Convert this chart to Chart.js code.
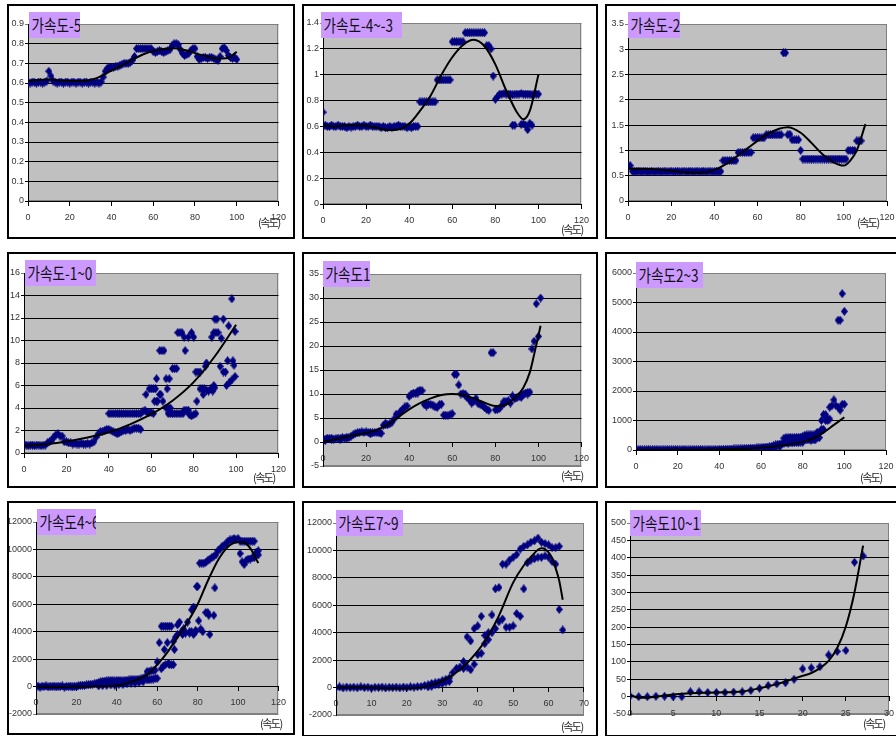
<!DOCTYPE html>
<html>
<head>
<meta charset="utf-8">
<script src="https://cdn.jsdelivr.net/npm/chart.js@4.4.1/dist/chart.umd.min.js"></script>
<style>
  html, body { margin: 0; padding: 0; }
  body { width: 896px; height: 736px; overflow: hidden; position: relative; background: #fff; }
  .panel { position: absolute; border: 2px solid #000; box-sizing: border-box; }
  canvas { position: absolute; }
  .ttl { position: absolute; height: 26px; background: #cc99ff; overflow: hidden; white-space: nowrap;
         font: 17px "Noto Sans CJK KR", sans-serif; line-height: 26px; color: #111; }
  .ttl span { display: inline-block; transform: scaleX(0.8); transform-origin: 0 50%; padding-left: 3px; }
  .unit { position: absolute; font: 11px "Noto Sans CJK KR", sans-serif; line-height: 12px;
          letter-spacing: -1.5px; color: #222; white-space: nowrap; }
</style>
</head>
<body>
<script>
// chart titles and axis ranges
const titles = ['가속도-5', '가속도-4~-3', '가속도-2', '가속도-1~0', '가속도1', '가속도2~3', '가속도4~6', '가속도7~9', '가속도10~12'];
const unitLabel = '(속도)';
const xMaxs  = [120, 120, 120, 120, 120, 120, 120, 70, 30];
const xSteps = [20, 20, 20, 20, 20, 20, 20, 10, 5];
const yMins  = [0, 0, 0, 0, -5, 0, -2000, -2000, -50];
const yMaxs  = [0.9, 1.4, 3.5, 16, 35, 6000, 12000, 12000, 500];
const ySteps = [0.1, 0.2, 0.5, 2, 5, 1000, 2000, 2000, 50];

// main series: value at speed 0,1,2,... ; extra: [speed, value] ; trend: [speed, value]
const c1Main = [0.605,0.6,0.605,0.605,0.6,0.605,0.605,0.6,0.605,0.61,
  0.66,0.635,0.61,
  0.605,0.6,0.605,0.605,0.6,0.605,0.605,0.6,0.605,0.605,0.6,0.605,0.605,0.6,0.605,0.605,0.6,0.605,0.605,0.6,0.605,0.6,0.605,
  0.63,0.66,
  0.675,0.68,0.68,0.68,0.685,0.685,0.69,
  0.695,0.7,0.7,0.7,0.705,
  0.715,0.735,
  0.775,0.775,0.775,0.775,0.775,0.775,0.775,0.775,
  0.76,0.755,0.76,0.765,0.76,0.755,0.76,0.765,0.77,
  0.79,0.8,0.8,0.795,
  0.77,0.75,0.74,0.745,0.75,
  0.765,0.775,0.775,
  0.735,0.72,0.725,0.73,0.73,0.725,0.73,0.73,0.725,0.72,
  0.715,0.735,0.775,0.78,0.765,
  0.74,0.73,0.725,0.73,0.72];
const c1Extra = [];
const c1Trend = [[0,0.61],[5,0.615],[10,0.618],[15,0.613],[20,0.61],[25,0.61],[30,0.615],[35,0.635],[40,0.663],[45,0.69],[50,0.718],[55,0.745],[60,0.763],[65,0.773],[70,0.777],[75,0.768],[80,0.752],[85,0.737],[90,0.725],[95,0.726],[100,0.758]];

const c2Main = [0.6,0.61,0.6,0.6,0.61,0.6,0.6,0.61,0.6,0.6,
  0.6,0.59,0.6,0.595,0.6,0.6,0.61,0.6,0.6,0.61,
  0.6,0.6,0.61,0.6,0.6,0.6,0.6,0.59,0.6,0.59,
  0.59,0.6,0.59,0.6,0.6,0.61,0.6,0.6,0.6,0.59,
  0.6,0.59,0.6,0.6,0.6,
  0.79,0.79,0.79,0.79,0.79,0.79,0.79,0.79,
  0.96,0.96,0.96,0.96,0.96,0.96,0.96,
  1.255,1.255,1.255,1.255,1.255,1.255,
  1.325,1.325,1.325,1.325,1.325,1.325,1.325,1.325,1.325,1.325,
  1.225,1.225,1.2,
  0.99,0.81,0.83,
  0.85,0.85,0.855,0.85,0.85,0.85,0.845,0.85,0.85,0.85,0.855,0.85,0.85,0.85,0.85,0.845,0.85,0.85,0.85];
const c2Extra = [[0,0.71],[88,0.61],[89,0.61],[92,0.615],[93,0.62],[94,0.61],[95,0.575],[96,0.625],[97,0.61]];
const c2Trend = [[0,0.61],[5,0.6],[10,0.607],[15,0.61],[20,0.605],[25,0.59],[30,0.572],[35,0.577],[40,0.62],[45,0.72],[50,0.84],[55,1.0],[60,1.135],[65,1.23],[70,1.27],[75,1.22],[80,1.08],[85,0.88],[90,0.71],[93,0.655],[96,0.72],[100,1.0]];

const c3Main = [0.7,0.7,
  0.59,0.58,0.585,0.59,0.58,0.585,0.59,0.58,0.585,0.59,0.58,0.585,0.59,0.58,0.585,0.59,0.58,0.585,0.59,0.58,0.585,
  0.59,0.58,0.585,0.59,0.58,0.585,0.59,0.58,0.585,0.59,0.58,0.585,0.59,0.58,0.585,0.59,0.58,0.585,0.59,0.58,0.585,
  0.8,0.8,0.8,0.8,0.8,0.8,0.8,
  0.96,0.96,0.96,0.96,0.96,0.96,0.96,
  1.25,1.25,1.25,1.25,1.25,1.25,
  1.31,1.31,1.31,1.31,1.31,1.31,1.31,1.31,
  2.93,2.93,
  1.31,1.32,
  1.21,1.21,1.21,1.21,
  1.0,
  0.83,0.83,0.83,0.83,0.83,0.83,0.83,0.83,0.83,0.83,0.83,0.83,0.83,0.83,0.83,0.83,0.83,0.83,0.83,0.83,0.83,
  1.0,1.0,1.0,1.0,
  1.19,1.19,1.19];
const c3Extra = [];
const c3Trend = [[0,0.64],[5,0.64],[10,0.635],[15,0.62],[20,0.6],[25,0.575],[30,0.56],[35,0.565],[40,0.615],[45,0.72],[50,0.87],[55,1.03],[60,1.19],[65,1.33],[70,1.43],[74,1.46],[80,1.35],[85,1.15],[90,0.93],[95,0.77],[100,0.7],[103,0.8],[106,1.0],[110,1.52]];

const c4Main = [0.75,0.7,0.65,0.7,0.7,0.65,0.7,0.7,0.65,0.7,0.7,
  0.9,1.0,1.1,1.4,1.6,1.7,1.5,1.5,1.0,1.0,
  0.9,0.9,0.8,0.85,0.8,0.8,0.85,0.8,0.8,0.85,0.8,0.9,
  1.0,1.4,1.7,1.9,1.9,2.0,2.1,2.1,2.0,1.9,1.8,1.7,1.8,1.9,2.0,2.0,2.1,2.0,2.1,2.2,2.2,2.2,2.1];
const c4Extra = [[40,3.5],[41,3.5],[42,3.5],[43,3.5],[44,3.5],[45,3.5],[46,3.5],[47,3.5],[48,3.5],[49,3.5],[50,3.5],[51,3.5],[52,3.5],[53,3.5],[54,3.5],[55,3.5],
  [56,3.7],[57,3.8],[58,3.6],[59,3.6],[60,3.6],[61,3.5],
  [57.5,5.2],[59,5.7],[60,5.7],[61,5.7],[62,5.7],[62.5,6.6],[61.5,4.6],[62.5,4.6],[63,4.6],[64,5.2],[64.5,5.2],
  [64,9.1],[65,9.1],[66,9.1],[65.5,4.6],[67,6.6],[67.5,5.7],[68.5,6.6],[67,4.0],[68,4.0],[69,4.0],
  [68,3.5],[69,3.5],[70,3.5],[71,3.5],[72,3.5],[73,3.5],[74,3.5],[75,3.5],
  [70,7.5],[71,7.5],[72,7.5],[72.5,10.7],[73.5,10.7],[74.5,10.7],[75.5,10.3],[76,9.1],[75.5,3.8],[76.5,3.8],[77.5,3.8],
  [77.5,10.3],[79,10.7],[80,10.3],[78,3.4],[79,3.3],[80,3.4],[81,3.5],[81,7.2],[82,7.2],[83,7.2],[81.5,4.6],
  [83,5.7],[84,5.7],[85,5.7],[84.5,5.2],[85.5,7.7],[86,8.0],[86,5.6],[87,5.5],[88,5.7],[89,5.5],[90,5.8],[89.5,6.0],
  [88.5,10.3],[89.5,10.7],[90.5,10.7],[91.5,10.7],[90,11.9],[91,11.9],[94,11.9],[92.5,7.7],[93,10.2],[94,7.2],[95,7.2],
  [95.5,6.0],[96,8.2],[96.5,11.3],[97,6.3],[98,13.7],[98,6.5],[98.5,8.2],[99,7.8],[99.5,10.8],[99.5,6.8]];
const c4Trend = [[0,0.6],[10,0.78],[20,1.03],[30,1.38],[40,1.85],[50,2.55],[60,3.45],[70,4.65],[80,6.3],[90,8.6],[100,11.4]];

const c5Main = [0.3,0.6,0.8,0.7,0.8,0.6,0.7,0.8,0.7,0.9,0.8,0.8,0.9,
  1.2,1.5,1.8,1.9,2.0,2.1,2.0,2.1,2.0,2.0,1.9,2.0,2.0,1.9,1.8,
  3.5,3.6,3.6,3.8,4.1,4.8,5.8,5.7,6.4,6.8,7.3,7.5,9.5,10.0,10.2,10.1,10.6,10.8,10.7,
  7.8,7.8,7.9,7.8,7.7,7.3,7.2,7.8,7.9,5.6,5.6,5.5,5.7,5.9,
  14.1,14.1,11.9,10.0,10.1,10.0,9.2,8.8,8.1,8.5,9.1,8.0,7.8,7.6,7.2,6.8,6.6,18.6,18.6,
  6.7,6.8,7.0,7.6,8.0,8.4,8.6,8.1,9.6,9.0,9.2,9.5,9.6,10.0,10.2,10.3,10.4,19.4,21.0,28.8,22.0,30.0];
const c5Extra = [[1,0.3],[4,0.5],[8,0.5],[11,1.0],[22,1.7],[26,2.2],[29,3.9],[44,10.2],[48,7.5],[66,9.7],[84,8.5],[92,9.3],[95,10.0]];
const c5Trend = [[0,0],[5,0.5],[10,1.0],[15,1.45],[20,1.9],[25,2.5],[30,3.6],[35,5.2],[40,6.8],[45,8.1],[50,9.1],[55,9.8],[60,10.0],[65,9.8],[70,9.1],[75,8.2],[80,7.5],[85,7.8],[90,9.6],[93,11.3],[96,14.5],[98,18.2],[101,24.2]];

const c6Main = [10,5,15,10,5,10,15,5,10,10,15,5,10,10,5,15,10,5,10,15,
  10,5,10,15,10,5,10,10,15,5,10,15,10,5,10,15,10,10,15,10,20,
  20,20,25,25,30,30,35,35,40,40,
  45,50,50,55,60,60,65,70,75,80,
  90,95,100,110,120,
  150,170,190,200,220,
  400,420,420,430,420,420,430,420,440,450,
  500,510,510,520,510,520,
  600,600,
  1000,1200,1200,1050,1450,1500,1700,1500,4400,4400,5300,4700];
const c6Extra = [[61,50],[63,60],[65,70],[67,90],[69,110],
  [71,230],[72,240],[73,230],[74,250],[75,240],[76,250],[77,260],[78,250],[79,270],[80,260],
  [81,350],[82,340],[83,350],[84,330],[85,350],[86,340],[87,420],[88,420],[89,700],[90,700],
  [91,1000],[92,1000],[93,1050],[97,1450],[98,1350],[99,1550],[100,1550]];
const c6Trend = [[0,0],[10,2],[20,5],[30,10],[40,20],[50,40],[60,80],[70,155],[80,275],[85,390],[90,590],[95,850],[100,1110]];

const c7Main = [0,40,-40,30,0,50,-30,20,0,40,-20,30,0,50,-40,20,0,40,-30,30,0,
  60,80,100,90,120,140,150,180,200,250,
  300,350,380,400,420,420,450,430,420,440,450,430,420,450,460,
  480,500,520,500,520,540,560,600,700,
  1100,1100,1150,1150,1200,
  1800,3200,
  4400,4400,4400,4400,4400,4400,
  3300,3600,4500,4700,4000,4200,3900,4700,4000,5600,5800,4100,7300,9000,
  9000,9000,9050,9200,9300,9400,9500,9600,9900,10000,10200,10300,10400,10600,10700,10700,10800,10700,10800,10600,10600,10600,10600,10600,10600,10600,10600,
  9800,9900];
const c7Extra = [[31,50],[33,80],[35,100],[37,120],[39,100],[41,150],[43,150],[45,200],[47,250],[49,250],[51,300],[53,350],
  [55,500],[56,500],[57,550],[58,550],[59,600],[60,600],[62,1300],[63,1500],[63.5,2700],[65,3200],[64,1600],[65.5,1700],
  [66,1600],[67,1600],[68,1600],[68.5,2700],[70,3800],[72.5,3800],[73.5,4000],[76,3900],[77,4000],[78,3800],[79,4000],
  [79.5,7300],[80.5,4800],[81.5,4200],[82.5,4000],[84,5400],[85,5400],[85.5,5200],[86,3800],[88,5200],[88.5,7200],
  [101,9700],[102,9100],[103,8900],[104,9200],[105,9300],[106,9300],[107,9400],[108,9400],[110,9600]];
const c7Trend = [[0,0],[10,-30],[20,0],[30,20],[40,80],[45,250],[50,500],[55,850],[60,1600],[65,2500],[70,3600],[75,4700],[80,6000],[85,7700],[90,9200],[95,10200],[100,10550],[103,10500],[106,10100],[110,9000]];

const c8Main = [0,50,-30,40,0,30,-20,50,0,30,-40,20,0,40,-30,20,0,30,-20,40,0,50,30,60,80,
  150,200,300,350,400,500,600,700,1100,1400,1500,1900,3700,3400,4300,4500,5200,3800,4000,5300,
  7200,7300,9000,9000,9300,9500,9700,10100,10300,10400,10600,10700,10900,10600,10500,10400,10200,10200,10300,4200];
const c8Extra = [[26,50],[27,100],[28,200],[29,250],[30,300],[31,400],[32,450],[36,1400],[37,1500],[38,1300],[39,1700],
  [40,2400],[41,2500],[42,3200],[43,3500],[44,4000],[45,4300],[46,4800],[47,5000],[48,4400],[49,4400],[50,4500],
  [51,5400],[52,5200],[53,7200],[54,9100],[55,9300],[56,9400],[57,9500],[58,9500],[59,9600],[60,9500],[61,9200],[62,9000],[63,5700]];
const c8Trend = [[0,0],[5,10],[10,0],[15,-50],[20,-50],[25,50],[30,480],[35,1300],[40,2650],[43,3800],[46,5250],[50,7650],[53,8900],[55,9500],[57,10050],[58,10150],[59,10100],[60,9850],[61,9450],[62,8700],[63,7800],[64,6400]];

const c9Main = [2,0,0,1,1,0,0,14,14,12,12,12,13,14,18,24,32,37,40,50,80,83,86,120,130,133,387,405];
const c9Extra = [];
const c9Trend = [[0,5],[1,-3],[2,-3],[3,0],[4,3],[5,6],[7,10],[10,12],[13,15],[15,24],[17,36],[19,52],[20,60],[21,68],[22,82],[23,103],[24,140],[25,202],[26,300],[27,435]];

const mains  = [c1Main, c2Main, c3Main, c4Main, c5Main, c6Main, c7Main, c8Main, c9Main];
const extras = [c1Extra, c2Extra, c3Extra, c4Extra, c5Extra, c6Extra, c7Extra, c8Extra, c9Extra];
const trends = [c1Trend, c2Trend, c3Trend, c4Trend, c5Trend, c6Trend, c7Trend, c8Trend, c9Trend];

// page layout: panel box [left, top, w, h], plot area [l, t, r, b], title box [l, t, w], unit label [l, t]
const frames = [
  { box: [7, 4, 288, 235],     plot: [28, 24, 283, 201],   tbox: [29, 12, 51],   unit: [258, 216] },
  { box: [302, 4, 296, 235],   plot: [323, 23, 585, 204],  tbox: [321, 12, 81],  unit: [561, 223] },
  { box: [605, 4, 300, 235],   plot: [628, 24, 887, 201],  tbox: [628, 12, 52],  unit: [857, 216] },
  { box: [7, 252, 288, 236],   plot: [24, 273, 283, 453],  tbox: [25, 260, 71],  unit: [253, 471] },
  { box: [302, 252, 296, 236], plot: [323, 274, 585, 466], tbox: [323, 261, 47], unit: [561, 469] },
  { box: [605, 252, 300, 236], plot: [636, 273, 886, 450], tbox: [636, 262, 67], unit: [860, 471] },
  { box: [7, 501, 288, 234],   plot: [36, 522, 283, 714],  tbox: [37, 509, 59],  unit: [260, 717] },
  { box: [302, 501, 296, 236], plot: [336, 523, 585, 715], tbox: [336, 510, 67], unit: [561, 720] },
  { box: [605, 501, 300, 236], plot: [630, 523, 889, 714], tbox: [630, 510, 71], unit: [863, 717] }
];

Chart.defaults.font.family = '"Liberation Sans", Arial, sans-serif';

// tall navy diamond marker
const marker = document.createElement('canvas');
marker.width = 7; marker.height = 9;
const mg = marker.getContext('2d');
mg.fillStyle = '#000080';
mg.beginPath(); mg.moveTo(3.5, 0); mg.lineTo(7, 4.5); mg.lineTo(3.5, 9); mg.lineTo(0, 4.5); mg.closePath(); mg.fill();

const plotBg = {
  id: 'plotBg',
  beforeDraw(chart) {
    const a = chart.chartArea, c = chart.ctx;
    c.save();
    c.fillStyle = '#c0c0c0';
    c.fillRect(a.left, a.top, a.width, a.height);
    c.strokeStyle = '#808080';
    c.lineWidth = 1;
    c.strokeRect(Math.round(a.left) + 0.5, Math.round(a.top) + 0.5, Math.round(a.width) - 1, Math.round(a.height) - 1);
    c.restore();
  }
};

const tickFont = { size: 9 };
const fmt = v => String(Math.round(v * 1000) / 1000);

function addDiv(cls, l, t, w, h) {
  const d = document.createElement('div');
  d.className = cls;
  d.style.left = l + 'px'; d.style.top = t + 'px';
  if (w) d.style.width = w + 'px';
  if (h) d.style.height = h + 'px';
  document.body.appendChild(d);
  return d;
}

frames.forEach((f, i) => {
  const [bl, bt, bw, bh] = f.box;
  addDiv('panel', bl, bt, bw, bh);
  const L = bl + 2, T = bt + 2, W = bw - 4, H = bh - 4;
  const cv = document.createElement('canvas');
  cv.width = W; cv.height = H;
  cv.style.left = L + 'px'; cv.style.top = T + 'px';
  document.body.appendChild(cv);
  const [pl, pt, pr, pb] = f.plot;
  const yMin = yMins[i], yMax = yMaxs[i];

  const pts = mains[i].map((y, x) => ({ x, y })).concat(extras[i].map(([x, y]) => ({ x, y })));

  new Chart(cv, {
    type: 'scatter',
    data: {
      datasets: [
        { data: trends[i].map(([x, y]) => ({ x, y })), showLine: true, borderColor: '#000', borderWidth: 2,
          pointRadius: 0, cubicInterpolationMode: 'monotone', order: 0 },
        { data: pts, pointStyle: marker, pointRadius: 4, borderWidth: 0, backgroundColor: '#000080', order: 1 }
      ]
    },
    options: {
      responsive: false, animation: false, devicePixelRatio: 1, events: [],
      layout: { padding: { left: 0, top: pt - T, right: L + W - pr, bottom: T + H - pb } },
      plugins: { legend: { display: false }, tooltip: { enabled: false } },
      scales: {
        x: {
          type: 'linear', min: 0, max: xMaxs[i], position: { y: 0 },
          ticks: { stepSize: xSteps[i], font: tickFont, color: '#333', padding: 7, maxRotation: 0, autoSkip: false, callback: fmt },
          grid: { drawOnChartArea: false, color: '#000', tickLength: 4 },
          border: { color: '#000', width: 1 }
        },
        y: {
          type: 'linear', min: yMin, max: yMax,
          ticks: { stepSize: ySteps[i], font: tickFont, color: '#333', padding: 1, autoSkip: false, callback: fmt },
          grid: {
            color: c => (c.tick && (Math.abs(c.tick.value - yMax) < 1e-9 || Math.abs(c.tick.value - yMin) < 1e-9 && yMin < 0)) ? '#808080' : '#000',
            tickLength: 3
          },
          border: { color: '#000', width: 1 },
          afterFit: s => { s.width = pl - L; }
        }
      }
    },
    plugins: [plotBg]
  });

  const [tl, tt, tw] = f.tbox;
  const t = addDiv('ttl', tl, tt, tw, 26);
  const sp = document.createElement('span');
  sp.textContent = titles[i];
  t.appendChild(sp);

  const u = addDiv('unit', f.unit[0], f.unit[1], 0, 0);
  u.textContent = unitLabel;
});
</script>
</body>
</html>
